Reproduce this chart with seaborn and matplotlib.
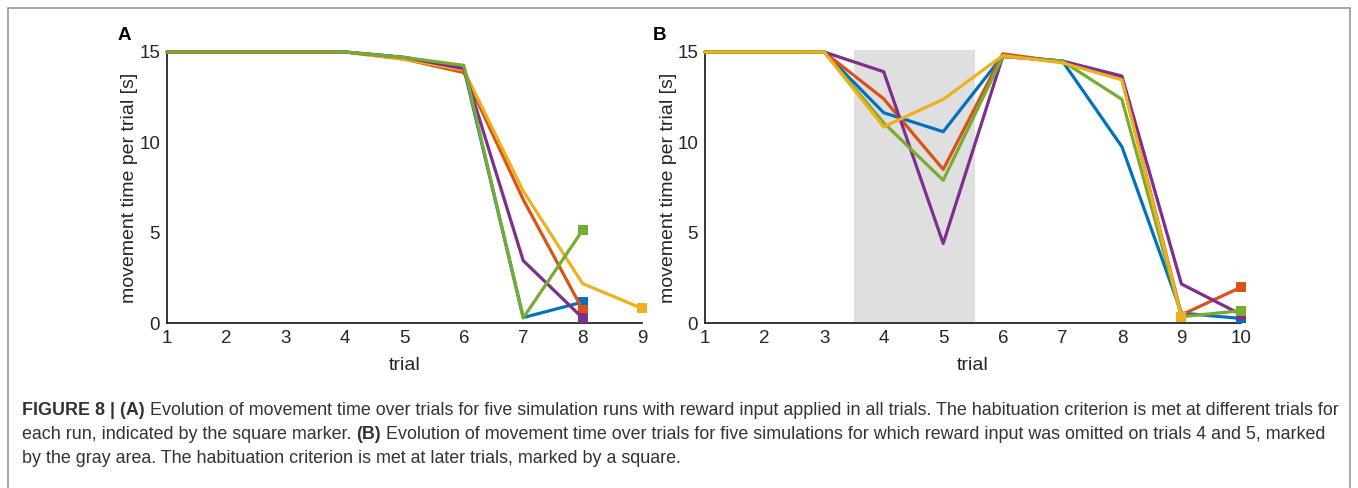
import numpy as np
import pandas as pd
import matplotlib
matplotlib.use("Agg")
import matplotlib.pyplot as plt
import matplotlib.patches as mpatches
import seaborn as sns

# ---------------- data ----------------
runs = ["run1", "run2", "run3", "run4", "run5"]
run_colors = ["#0072BD", "#D95319", "#EDB120", "#7E2F8E", "#77AC30"]

trials_a = [1, 2, 3, 4, 5, 6, 7, 8, 9]
a_run1 = [15, 15, 15, 15, 14.7, 14.1, 0.30, 1.16]
a_run2 = [15, 15, 15, 15, 14.6, 13.86, 6.83, 0.74]
a_run3 = [15, 15, 15, 15, 14.6, 14.0, 7.30, 2.18, 0.81]
a_run4 = [15, 15, 15, 15, 14.7, 14.08, 3.45, 0.28]
a_run5 = [15, 15, 15, 15, 14.7, 14.26, 0.28, 5.14]

trials_b = [1, 2, 3, 4, 5, 6, 7, 8, 9, 10]
b_run1 = [15, 15, 15, 11.64, 10.59, 14.80, 14.50, 9.76, 0.55, 0.25]
b_run2 = [15, 15, 15, 12.41, 8.50, 14.90, 14.45, 13.50, 0.45, 1.98]
b_run3 = [15, 15, 15, 10.86, 12.38, 14.80, 14.40, 13.46, 0.35]
b_run4 = [15, 15, 15, 13.91, 4.40, 14.75, 14.50, 13.67, 2.16, 0.47]
b_run5 = [15, 15, 15, 11.08, 7.90, 14.75, 14.50, 12.38, 0.35, 0.68]

omitted_trials = (3.5, 5.53)
y_ticks = [0, 5, 10, 15]
x_label = "trial"
y_label = "movement time per trial [s]"

caption_lines = [
    [("FIGURE 8 | (A)", True), ("Evolution of movement time over trials for five simulation runs with reward input applied in all trials. The habituation criterion is met at different trials for", False)],
    [("each run, indicated by the square marker.", False), ("(B)", True), ("Evolution of movement time over trials for five simulations for which reward input was omitted on trials 4 and 5, marked", False)],
    [("by the gray area. The habituation criterion is met at later trials, marked by a square.", False)],
]


def to_long(trials, series):
    rows = []
    for name, vals in zip(runs, series):
        for t, v in zip(trials, vals):
            rows.append({"trial": t, "time": v, "run": name})
    return pd.DataFrame(rows)


df_a = to_long(trials_a, [a_run1, a_run2, a_run3, a_run4, a_run5])
df_b = to_long(trials_b, [b_run1, b_run2, b_run3, b_run4, b_run5])
last_a = df_a.groupby("run").tail(1)
last_b = df_b.groupby("run").tail(1)

# ---------------- style ----------------
sns.set_style("white")
plt.rcParams["font.family"] = ["Liberation Sans", "DejaVu Sans"]
palette = dict(zip(runs, run_colors))
axis_col = "#262626"

W, H = 1358, 488
fig = plt.figure(figsize=(W / 100, H / 100), dpi=100)


def px_axes(l, r, t, b):
    return fig.add_axes([l / W, 1 - b / H, (r - l) / W, (b - t) / H])


ax_a = px_axes(167, 642, 52, 323)
ax_b = px_axes(705, 1241, 52, 323)

# gray area in panel B
ax_b.axvspan(omitted_trials[0], omitted_trials[1], ymin=0, ymax=15.1 / 15,
             color="#DFDFDF", lw=0, clip_on=False, zorder=0)

order_a = ["run1", "run2", "run3", "run4", "run5"]
order_b = ["run1", "run2", "run4", "run5", "run3"]

for ax, df, last, order, xmax in [(ax_a, df_a, last_a, order_a, 9), (ax_b, df_b, last_b, order_b, 10)]:
    for i, r in enumerate(order):
        sub = df[df["run"] == r]
        sns.lineplot(data=sub, x="trial", y="time", color=palette[r], lw=2.3,
                     estimator=None, ax=ax, legend=False, zorder=3 + i, clip_on=False)
        lp = last[last["run"] == r]
        sns.scatterplot(data=lp, x="trial", y="time", color=palette[r], marker="s",
                        s=42, linewidth=0, ax=ax, legend=False, zorder=3 + i + 0.5, clip_on=False)
    ax.set_xlim(1, xmax)
    ax.set_ylim(0, 15)
    ax.set_xticks(list(range(1, xmax + 1)))
    ax.set_yticks(y_ticks)
    ax.set_facecolor("none")
    for s in ["top", "right"]:
        ax.spines[s].set_visible(False)
    for s in ["left", "bottom"]:
        ax.spines[s].set_color(axis_col)
        ax.spines[s].set_linewidth(1.3)
    ax.tick_params(direction="in", length=5, width=1.2, color=axis_col,
                   labelsize=13.5, labelcolor=axis_col, pad=5)
    ax.set_xlabel(x_label, fontsize=14, color=axis_col)
    ax.set_ylabel(y_label, fontsize=14, color=axis_col)
    ax.xaxis.label.set_va("center")
    ax.yaxis.label.set_va("center")

ax_a.xaxis.set_label_coords(0.5, -(365 - 323) / 271)
ax_b.xaxis.set_label_coords(0.5, -(365 - 323) / 271)
ax_a.yaxis.set_label_coords(-(167 - 130) / 475, 0.5)
ax_b.yaxis.set_label_coords(-(705 - 668) / 536, 0.5)

fig.text(124 / W, 1 - 35 / H, "A", fontsize=13.5, fontweight="bold", ha="center", va="center", color="black")
fig.text(660 / W, 1 - 35 / H, "B", fontsize=13.5, fontweight="bold", ha="center", va="center", color="black")

# outer frame
fig.patches.append(mpatches.Rectangle((8 / W, -0.05), (1350 - 8) / W, 1.05 - 8 / H,
                                      transform=fig.transFigure, fill=False,
                                      edgecolor="#8f8f8f", lw=1.1))

# ---------------- caption ----------------
renderer = fig.canvas.get_renderer()
cap_fs = 12.9
cap_col = "#333333"


def width_of(s, bold):
    t = fig.text(0, 0, s, fontsize=cap_fs, fontweight="bold" if bold else "normal")
    w = t.get_window_extent(renderer).width
    t.remove()
    return w


space_w = width_of("a a", False) - width_of("aa", False)
x0 = 22
baselines = [415, 439, 463]
for segs, yb in zip(caption_lines, baselines):
    x = x0
    for text, bold in segs:
        fig.text(x / W, 1 - yb / H, text, fontsize=cap_fs, fontweight="bold" if bold else "normal",
                 ha="left", va="baseline", color=cap_col)
        x += width_of(text, bold) + space_w

fig.savefig("out.png", dpi=100)
